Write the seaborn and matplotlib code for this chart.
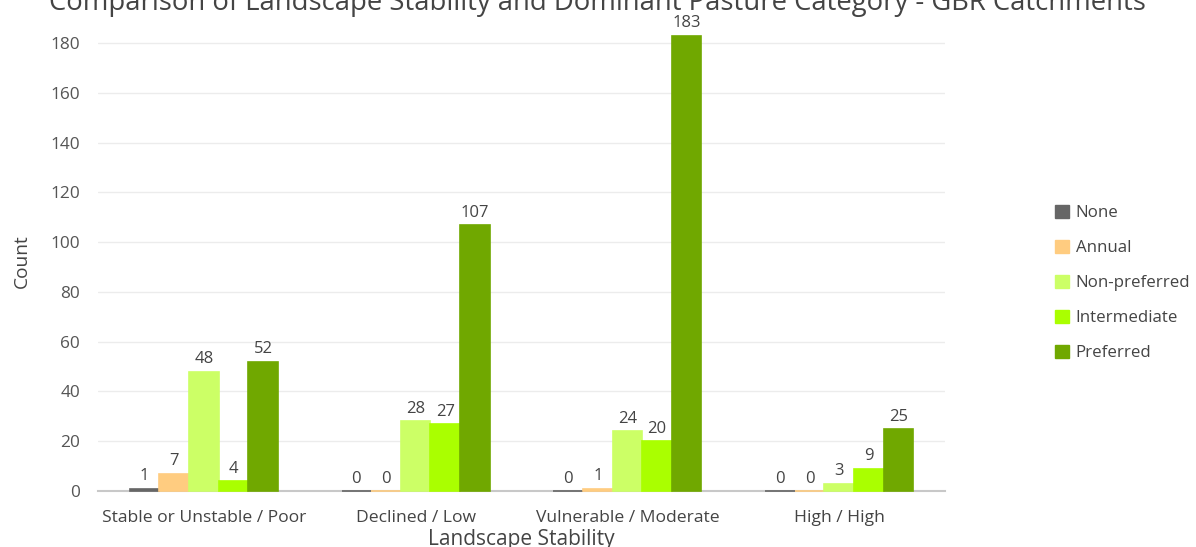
import matplotlib
matplotlib.use("Agg")
import matplotlib.pyplot as plt
import seaborn as sns
import pandas as pd
from matplotlib.patches import Patch

# Landscape stability classes and pasture categories
stability = ["Stable or Unstable / Poor", "Declined / Low", "Vulnerable / Moderate", "High / High"]
categories = ["None", "Annual", "Non-preferred", "Intermediate", "Preferred"]

none_counts = [1, 0, 0, 0]
annual_counts = [7, 0, 1, 0]
nonpreferred_counts = [48, 28, 24, 3]
intermediate_counts = [4, 27, 20, 9]
preferred_counts = [52, 107, 183, 25]

colors = ["#666666", "#FFCC80", "#CCFF66", "#AAFF00", "#70A800"]

series = [none_counts, annual_counts, nonpreferred_counts, intermediate_counts, preferred_counts]
rows = []
for cat, vals in zip(categories, series):
    for s, v in zip(stability, vals):
        rows.append({"Landscape Stability": s, "Category": cat, "Count": v})
df = pd.DataFrame(rows)

sns.set_theme(style="white")
plt.rcParams["font.family"] = ["Open Sans", "DejaVu Sans"]

fig = plt.figure(figsize=(11.96, 5.47), dpi=100)
ax = fig.add_axes([98 / 1196, 56 / 547, (945 - 98) / 1196, (491 - 30.6) / 547])

sns.barplot(data=df, x="Landscape Stability", y="Count", hue="Category",
            hue_order=categories, order=stability, palette=colors,
            width=0.7, gap=0, saturation=1, ax=ax, legend=False, errorbar=None)

# outline each bar in its own colour so zero counts still show as a thin line
for cont, c in zip(ax.containers, colors):
    for p in cont:
        p.set_edgecolor(c)
        p.set_linewidth(1.2)
        p.set_clip_on(False)
        p.set_zorder(3)
    ax.bar_label(cont, fmt="%d", padding=3, fontsize=12, color="#444444")

ax.set_ylim(0, 185)
ax.set_yticks(range(0, 181, 20))
ax.grid(axis="y", color="#ececec", linewidth=1)
ax.set_axisbelow(True)
for side in ["top", "right", "left"]:
    ax.spines[side].set_visible(False)
ax.spines["bottom"].set_color("#c8c8c8")
ax.spines["bottom"].set_linewidth(1.5)
ax.spines["bottom"].set_zorder(1)
ax.tick_params(axis="y", length=0, labelsize=12.4, colors="#555555", pad=13)
ax.tick_params(axis="x", length=4, width=1, color="#c8c8c8", labelsize=12.6,
               labelcolor="#444444", pad=10)
ax.set_xlabel("Landscape Stability", fontsize=15, color="#444444")
ax.set_ylabel("Count", fontsize=13.8, color="#444444", labelpad=14)
ax.xaxis.set_label_coords(0.5, -0.082)

fig.text(597 / 1196, 1 - 10 / 547, "Comparison of Landscape Stability and Dominant Pasture Category - GBR Catchments",
         ha="center", va="baseline", fontsize=19.8, color="#444444")

handles = [Patch(facecolor=c, edgecolor=c, label=l) for c, l in zip(colors, categories)]
fig.legend(handles=handles, loc="center left", bbox_to_anchor=(1040 / 1196, 1 - 283 / 547),
           frameon=False, fontsize=12.2, labelcolor="#444444", handlelength=0.8,
           handleheight=0.8, handletextpad=0.4, labelspacing=1.1)

fig.savefig("out.png", dpi=100)
